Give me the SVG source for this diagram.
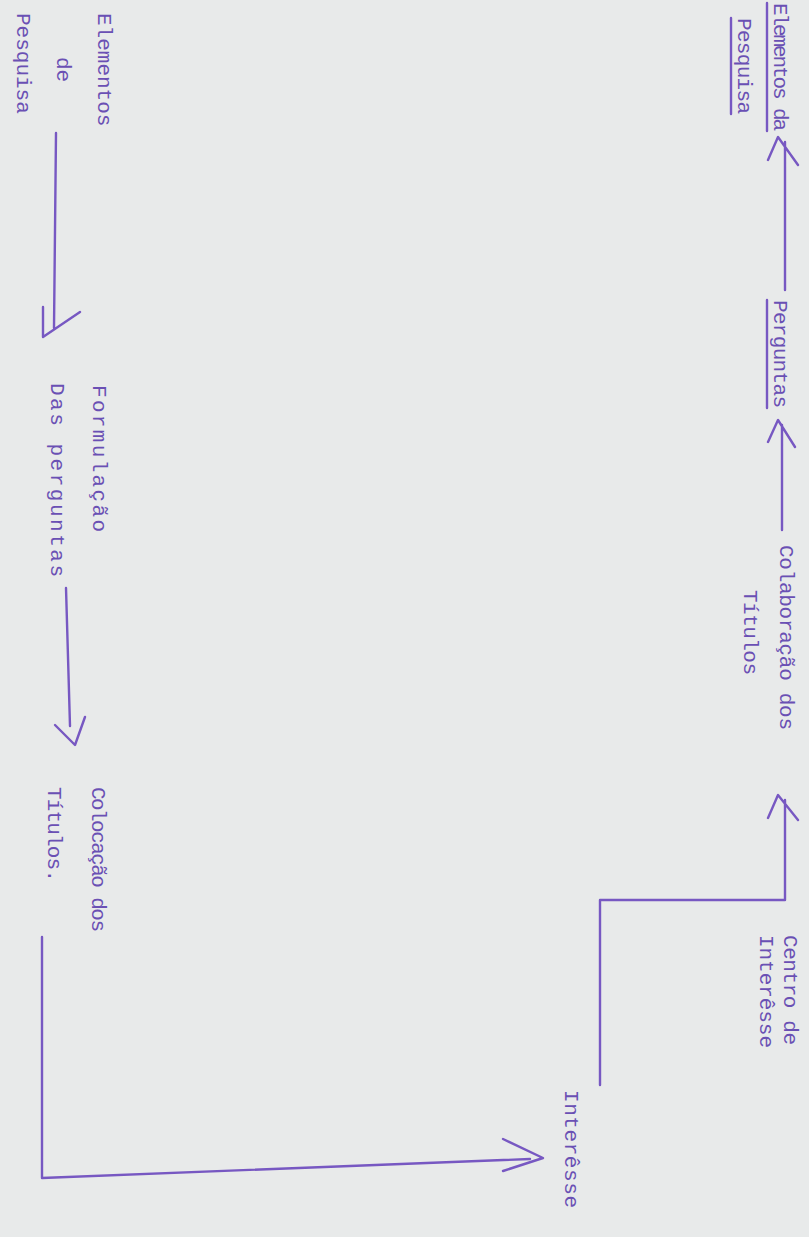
<svg xmlns="http://www.w3.org/2000/svg" width="809" height="1237" viewBox="0 0 809 1237">
<style>
.t{font-family:"Liberation Mono","DejaVu Sans Mono",monospace;font-size:21px;fill:#6a50b4}
.ln{fill:none;stroke:#7758c2;stroke-width:2.4;stroke-linecap:round;stroke-linejoin:round}
</style>
<rect width="809" height="1237" fill="#e8eaea"/>
<g id="n-elementos-de-pesquisa">
<text class="t" transform="translate(98,13) rotate(90)">Elementos</text>
<text class="t" transform="translate(57,57) rotate(90)">de</text>
<text class="t" transform="translate(17,13) rotate(90)">Pesquisa</text>
</g>
<g id="n-formulacao">
<text class="t" transform="translate(93,385) rotate(90)" textLength="147" lengthAdjust="spacing">Formulação</text>
<text class="t" transform="translate(51,383) rotate(90)" textLength="194" lengthAdjust="spacing">Das perguntas</text>
</g>
<g id="n-colocacao">
<text class="t" transform="translate(92,787) rotate(90)" textLength="145" lengthAdjust="spacing">Colocação dos</text>
<text class="t" transform="translate(48,787) rotate(90)" textLength="95" lengthAdjust="spacing">Títulos.</text>
</g>
<g id="n-elementos-da-pesquisa">
<text class="t" transform="translate(774,3) rotate(90)" textLength="128" lengthAdjust="spacing">Elementos da</text>
<text class="t" transform="translate(738,18) rotate(90)" textLength="96" lengthAdjust="spacing">Pesquisa</text>
<line class="ln" x1="767" y1="3" x2="767" y2="131"/>
<line class="ln" x1="731" y1="18" x2="731" y2="114"/>
</g>
<g id="n-perguntas">
<text class="t" transform="translate(774,300) rotate(90)" textLength="108" lengthAdjust="spacing">Perguntas</text>
<line class="ln" x1="767" y1="300" x2="767" y2="408"/>
</g>
<g id="n-colaboracao">
<text class="t" transform="translate(780,545) rotate(90)" textLength="185" lengthAdjust="spacing">Colaboração dos</text>
<text class="t" transform="translate(744,590) rotate(90)" textLength="85" lengthAdjust="spacing">Títulos</text>
</g>
<g id="n-interesse">
<text class="t" transform="translate(565,1090) rotate(90)" textLength="118" lengthAdjust="spacing">Interêsse</text>
</g>
<g id="n-centro">
<text class="t" transform="translate(784,935) rotate(90)" textLength="110" lengthAdjust="spacing">Centro de</text>
<text class="t" transform="translate(760,935) rotate(90)" textLength="113" lengthAdjust="spacing">Interêsse</text>
</g>
<g id="connectors">
<path class="ln" d="M56,133 L54,328 M43,307 L43,337 L80,312"/>
<path class="ln" d="M66,588 L70,726 M55,725 L75,745 L85,717"/>
<path class="ln" d="M42,937 L42,1178 L530,1159 M503,1139 L543,1158 L503,1171"/>
<path class="ln" d="M785,142 L785,290 M798,165 L778,137 L768,160"/>
<path class="ln" d="M782,425 L782,530 M795,447 L778,420 L768,442"/>
<path class="ln" d="M600,1085 L600,900 L785,900 L785,800 M798,820 L778,795 L768,818"/>
</g>
</svg>
